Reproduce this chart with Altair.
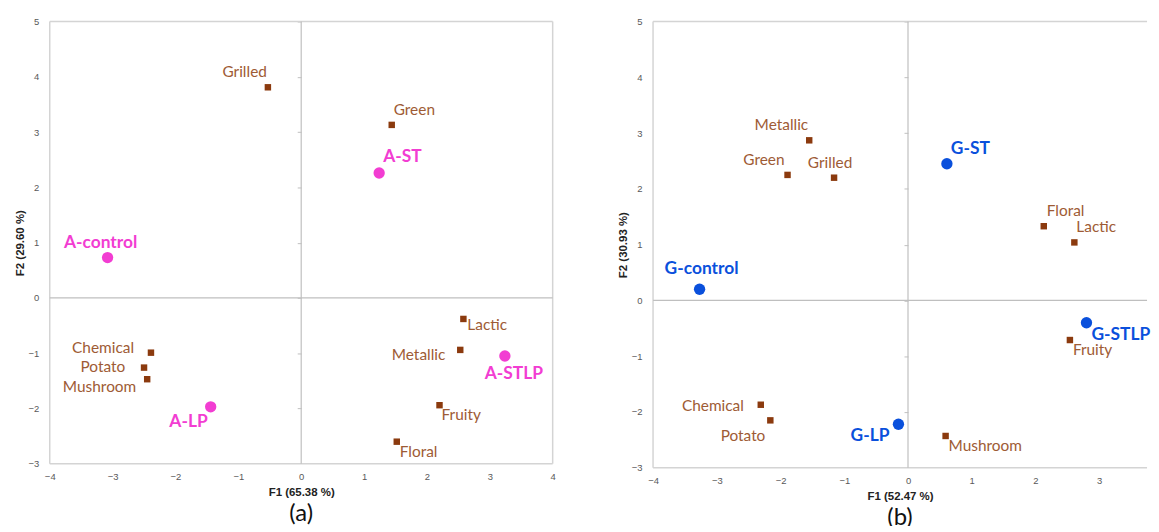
import altair as alt
import pandas as pd

# ---------------- data: panel (a) ----------------
A_OBS = ["A-control", "A-ST", "A-LP", "A-STLP"]
A_OBS_F1 = [-3.08, 1.24, -1.44, 3.24]
A_OBS_F2 = [0.73, 2.26, -1.97, -1.05]
A_ATTR = ["Grilled", "Green", "Chemical", "Potato", "Mushroom",
          "Lactic", "Metallic", "Fruity", "Floral"]
A_ATTR_F1 = [-0.53, 1.44, -2.39, -2.50, -2.45, 2.58, 2.53, 2.20, 1.52]
A_ATTR_F2 = [3.81, 3.13, -0.99, -1.26, -1.47, -0.38, -0.94, -1.94, -2.60]

# ---------------- data: panel (b) ----------------
B_OBS = ["G-control", "G-ST", "G-LP", "G-STLP"]
B_OBS_F1 = [-3.27, 0.61, -0.15, 2.80]
B_OBS_F2 = [0.20, 2.45, -2.22, -0.40]
B_ATTR = ["Metallic", "Green", "Grilled", "Floral", "Lactic",
          "Chemical", "Potato", "Mushroom", "Fruity"]
B_ATTR_F1 = [-1.55, -1.89, -1.16, 2.13, 2.61, -2.31, -2.16, 0.59, 2.54]
B_ATTR_F2 = [2.87, 2.25, 2.20, 1.33, 1.04, -1.87, -2.15, -2.43, -0.71]

X_TICKS_A = [-4, -3, -2, -1, 0, 1, 2, 3, 4]
X_TICKS_B = [-4, -3, -2, -1, 0, 1, 2, 3]
Y_TICKS = [-3, -2, -1, 0, 1, 2, 3, 4, 5]

# ---------------- label placement (style) ----------------
STYLE_A = {
    "Grilled": ("right", -1, -15), "Green": ("left", 2, -15),
    "A-ST": ("left", 4, -16), "A-control": ("center", -7, -15),
    "Chemical": ("right", -17, -5), "Potato": ("right", -19, -1),
    "Mushroom": ("right", -11, 8), "A-LP": ("right", -3, 15),
    "Lactic": ("left", 4, 6), "Metallic": ("right", -15, 5),
    "A-STLP": ("center", 9, 18), "Fruity": ("left", 2, 10),
    "Floral": ("left", 3, 10),
}
STYLE_B = {
    "Metallic": ("right", -1, -15), "Green": ("right", -3, -15),
    "Grilled": ("center", -4, -15), "G-ST": ("left", 4, -15),
    "Floral": ("left", 3, -15), "Lactic": ("left", 2, -15),
    "G-control": ("center", 2, -20), "Chemical": ("right", -17, 1),
    "Potato": ("right", -5, 16), "G-LP": ("right", -9, 12),
    "Mushroom": ("left", 3, 10), "G-STLP": ("left", 5, 12),
    "Fruity": ("left", 3, 10),
}

SQUARE = "#8B3A0E"
ATTR_TXT = "#9E5B35"
BORDER = "#D4D4D4"
ZERO = "#BFBFBF"
LABEL_FONT = "Lato"
AX_FONT = "Liberation Sans"


def panel(obs, of1, of2, attr, af1, af2, color, xdom, xticks, w, h,
          xtitle, ytitle, ptitle, styles, right_border=True):
    df = pd.DataFrame({
        "f1": of1 + af1, "f2": of2 + af2, "name": obs + attr,
        "kind": ["obs"] * len(obs) + ["attr"] * len(attr),
    })
    xs = alt.Scale(domain=xdom, nice=False, zero=False)
    ys = alt.Scale(domain=[-3, 5], nice=False, zero=False)
    xax = alt.Axis(values=xticks, title=xtitle, grid=False, domain=False,
                   ticks=False, labelFlush=False, labelFontSize=9.5,
                   labelColor="#595959", labelFont=AX_FONT, labelPadding=8,
                   titleFont=AX_FONT, titleFontSize=11.5, titleFontWeight="bold",
                   titleColor="#222222", titlePadding=5)
    yax = alt.Axis(values=Y_TICKS, title=ytitle, grid=False, domain=False,
                   ticks=False, labelFlush=False, labelFontSize=9.5,
                   labelColor="#595959", labelFont=AX_FONT, labelPadding=11,
                   titleFont=AX_FONT, titleFontSize=11.5, titleFontWeight="bold",
                   titleColor="#222222", titlePadding=3)
    base = alt.Chart(df).encode(
        x=alt.X("f1:Q", scale=xs, axis=xax),
        y=alt.Y("f2:Q", scale=ys, axis=yax),
    )
    layers = []
    frame = pd.DataFrame({"x": [xdom[0], xdom[0], xdom[0]],
                          "x2": [xdom[1], xdom[1], xdom[0]],
                          "y": [5, -3, -3], "y2": [5, -3, 5]})
    if right_border:
        frame = pd.concat([frame, pd.DataFrame(
            {"x": [xdom[1]], "x2": [xdom[1]], "y": [-3], "y2": [5]})])
    layers.append(alt.Chart(frame).mark_rule(color=BORDER, strokeWidth=1.5).encode(
        x=alt.X("x:Q", scale=xs, axis=xax), x2="x2",
        y=alt.Y("y:Q", scale=ys, axis=yax), y2="y2"))
    zero = pd.DataFrame({"x": [0, xdom[0]], "x2": [0, xdom[1]],
                         "y": [-3, 0], "y2": [5, 0]})
    layers.append(alt.Chart(zero).mark_rule(color=ZERO, strokeWidth=1.2).encode(
        x=alt.X("x:Q", scale=xs, axis=xax), x2="x2",
        y=alt.Y("y:Q", scale=ys, axis=yax), y2="y2"))
    layers.append(base.transform_filter(alt.datum.kind == "attr").mark_point(
        shape="square", filled=True, size=42, color=SQUARE, opacity=1))
    layers.append(base.transform_filter(alt.datum.kind == "obs").mark_point(
        shape="circle", filled=True, size=130, color=color, opacity=1))
    for name, (align, dx, dy) in styles.items():
        is_obs = name in obs
        layers.append(base.transform_filter(alt.datum.name == name).mark_text(
            align=align, baseline="middle", dx=dx, dy=dy, font=LABEL_FONT,
            fontSize=17.5 if is_obs else 15.5,
            fontWeight="bold" if is_obs else "normal",
            color=color if is_obs else ATTR_TXT).encode(text="name:N"))
    inner = alt.layer(*layers)
    off = -w * (0 - xdom[0]) / (xdom[1] - xdom[0])
    tick_ax = alt.Axis(values=Y_TICKS[1:], orient="left", offset=off, labels=False,
                       domain=False, ticks=True, tickSize=4, tickColor=ZERO,
                       grid=False, title=None)
    tick_layer = base.mark_point(opacity=0).encode(
        y=alt.Y("f2:Q", scale=ys, axis=tick_ax))
    return alt.layer(inner, tick_layer).resolve_axis(y="independent").properties(
        width=w, height=h,
        title=alt.TitleParams(ptitle, orient="bottom", font=LABEL_FONT,
                              fontSize=24, fontWeight="normal", color="#111111",
                              offset=5))


pa = panel(A_OBS, A_OBS_F1, A_OBS_F2, A_ATTR, A_ATTR_F1, A_ATTR_F2, "#F23DD2",
           [-4, 4], X_TICKS_A, 506, 445, "F1 (65.38 %)", "F2 (29.60 %)", "(a)",
           STYLE_A)
pb = panel(B_OBS, B_OBS_F1, B_OBS_F2, B_ATTR, B_ATTR_F1, B_ATTR_F2, "#0A50DC",
           [-4, 3.75], X_TICKS_B, 497, 449, "F1 (52.47 %)", "F2 (30.93 %)", "(b)",
           STYLE_B, right_border=False)

chart = alt.hconcat(pa, pb, spacing=62).properties(
    padding={"left": 6, "top": 7, "right": 0, "bottom": -6}
).configure_view(stroke=None)

chart.save("out.html", embed_options={"renderer": "svg", "actions": False})
